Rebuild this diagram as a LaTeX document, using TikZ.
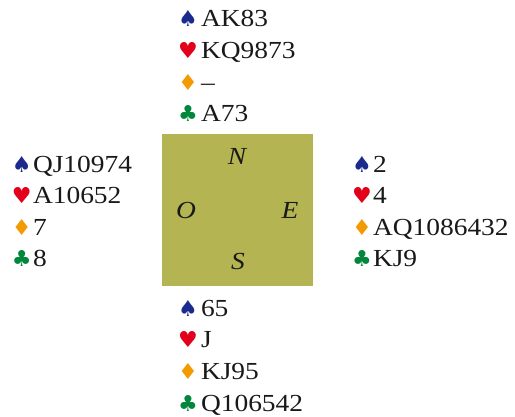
\documentclass[tikz,border=0pt]{standalone}
\usepackage{fontspec}
\setmainfont{Liberation Serif}[FakeStretch=1.12]
\newfontfamily\suitfont{DejaVu Sans}
\definecolor{spadec}{HTML}{1B2A8C}
\definecolor{heartc}{HTML}{E2001A}
\definecolor{diamc}{HTML}{F39A00}
\definecolor{clubc}{HTML}{00873C}
\definecolor{boardc}{HTML}{B5B453}
\newcommand\suitS{\textcolor{spadec}{♠}}
\newcommand\suitH{\textcolor{heartc}{♥}}
\newcommand\suitD{\textcolor{diamc}{♦}}
\newcommand\suitC{\textcolor{clubc}{♣}}
\tikzset{
  cards/.style={inner sep=0pt, outer sep=0pt, anchor=base west, text=black!90,
    font=\fontsize{24.5}{28}\selectfont},
  suitsym/.style={inner sep=0pt, outer sep=0pt, anchor=base west,
    font=\suitfont\fontsize{22}{24}\selectfont},
  seat/.style={inner sep=0pt, outer sep=0pt, anchor=base, text=black!90,
    font=\fontsize{24.5}{28}\selectfont\itshape},
  boardbox/.style={fill=boardc, draw=none, inner sep=0pt, outer sep=0pt,
    minimum width=151pt, minimum height=152pt}
}
\begin{document}
\begin{tikzpicture}[x=1pt,y=-1pt]
\useasboundingbox (0,0) rectangle (515,417);
\node[boardbox] (board) at (237.5,210) {};
\node[seat] (seatN) at (237,165) {N};
\node[seat] (seatO) at (186,219) {O};
\node[seat] (seatE) at (290,219) {E};
\node[seat] (seatS) at (238,270) {S};
\foreach \nm/\sx/\tx/\y/\s/\t in {
  n1/178/201/27/\suitS/AK83, n2/178/201/59/\suitH/KQ9873,
  n3/178/201/90.5/\suitD/--, n4/178/201/122/\suitC/A73,
  w1/12/33/173/\suitS/QJ10974, w2/12/33/204/\suitH/A10652,
  w3/12/33/235.5/\suitD/7, w4/12/33/267/\suitC/8,
  e1/352/373/173/\suitS/2, e2/352/373/204/\suitH/4,
  e3/352/373/235.5/\suitD/AQ1086432, e4/352/373/267/\suitC/KJ9,
  s1/178/201/317/\suitS/65, s2/178/201/348/\suitH/J,
  s3/178/201/380/\suitD/KJ95, s4/178/201/411/\suitC/Q106542}
{
  \node[suitsym] (\nm sym) at (\sx,\y) {\s};
  \node[cards] (\nm txt) at (\tx,\y) {\t};
}
\end{tikzpicture}
\end{document}
